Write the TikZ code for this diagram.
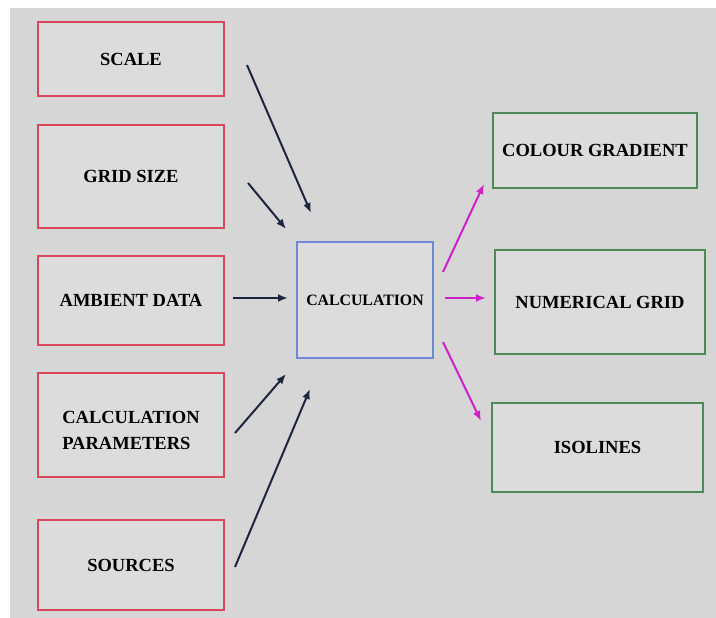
\documentclass[tikz,border=0pt]{standalone}
\usepackage{fontspec}
\setmainfont{Liberation Serif}
\usetikzlibrary{arrows.meta}
\definecolor{bgg}{HTML}{D6D6D6}
\definecolor{boxfill}{HTML}{DCDCDC}
\definecolor{inred}{HTML}{D8475A}
\definecolor{calcblue}{HTML}{7186D6}
\definecolor{outgreen}{HTML}{4E8A55}
\definecolor{navy}{HTML}{1E2540}
\definecolor{mag}{HTML}{D020C8}
\tikzset{
  inbox/.style={draw=inred, line width=1.8pt, fill=boxfill, font=\fontsize{18.5}{24}\selectfont\bfseries, inner sep=0pt},
  calcbox/.style={draw=calcblue, line width=1.4pt, fill=boxfill, font=\fontsize{15.8}{20}\selectfont\bfseries, inner sep=0pt},
  outbox/.style={draw=outgreen, line width=1.8pt, fill=boxfill, font=\fontsize{18.5}{24}\selectfont\bfseries, inner sep=0pt},
  inarr/.style={draw=navy, line width=2pt, -{Latex[length=10pt,width=8pt]}},
  outarr/.style={draw=mag, line width=2pt, -{Latex[length=10pt,width=8pt]}}
}
\begin{document}
\begin{tikzpicture}[x=1pt,y=-1pt]
\useasboundingbox (0,0) rectangle (716,618);
\fill[white] (0,0) rectangle (716,618);
\fill[bgg] (10,8) rectangle (716,618);

\node[inbox, minimum width=186pt, minimum height=74pt] (scale) at (131,59) {SCALE};
\node[inbox, minimum width=186pt, minimum height=103pt] (grid) at (131,176.5) {GRID SIZE};
\node[inbox, minimum width=186pt, minimum height=89pt] (amb) at (131,300.5) {AMBIENT DATA};
\node[inbox, minimum width=186pt, minimum height=104pt] (par) at (131,425) {};
\node[font=\fontsize{18.5}{26}\selectfont\bfseries, align=left, inner sep=0pt] (partext) at (131,430) {CALCULATION\\PARAMETERS};
\node[inbox, minimum width=186pt, minimum height=90pt] (src) at (131,565) {SOURCES};

\node[calcbox, minimum width=136pt, minimum height=116pt] (calc) at (365,300) {CALCULATION};

\node[outbox, minimum width=204pt, minimum height=75pt] (cg) at (595,150.5) {COLOUR GRADIENT};
\node[outbox, minimum width=210pt, minimum height=104pt] (ng) at (600,302) {NUMERICAL GRID};
\node[outbox, minimum width=211pt, minimum height=89pt] (iso) at (597.5,447.5) {ISOLINES};

\coordinate (s1) at (247,65);  \coordinate (e1) at (311,213);
\coordinate (s2) at (248,183); \coordinate (e2) at (286,229);
\coordinate (s3) at (233,298); \coordinate (e3) at (288,298);
\coordinate (s4) at (235,433); \coordinate (e4) at (286,374);
\coordinate (s5) at (235,567); \coordinate (e5) at (310,389);

\coordinate (o1) at (443,272); \coordinate (f1) at (484,184);
\coordinate (o2) at (445,298); \coordinate (f2) at (486,298);
\coordinate (o3) at (443,342); \coordinate (f3) at (481,421);

\draw[inarr] (s1) -- (e1);
\draw[inarr] (s2) -- (e2);
\draw[inarr] (s3) -- (e3);
\draw[inarr] (s4) -- (e4);
\draw[inarr] (s5) -- (e5);

\draw[outarr] (o1) -- (f1);
\draw[outarr] (o2) -- (f2);
\draw[outarr] (o3) -- (f3);
\end{tikzpicture}
\end{document}
